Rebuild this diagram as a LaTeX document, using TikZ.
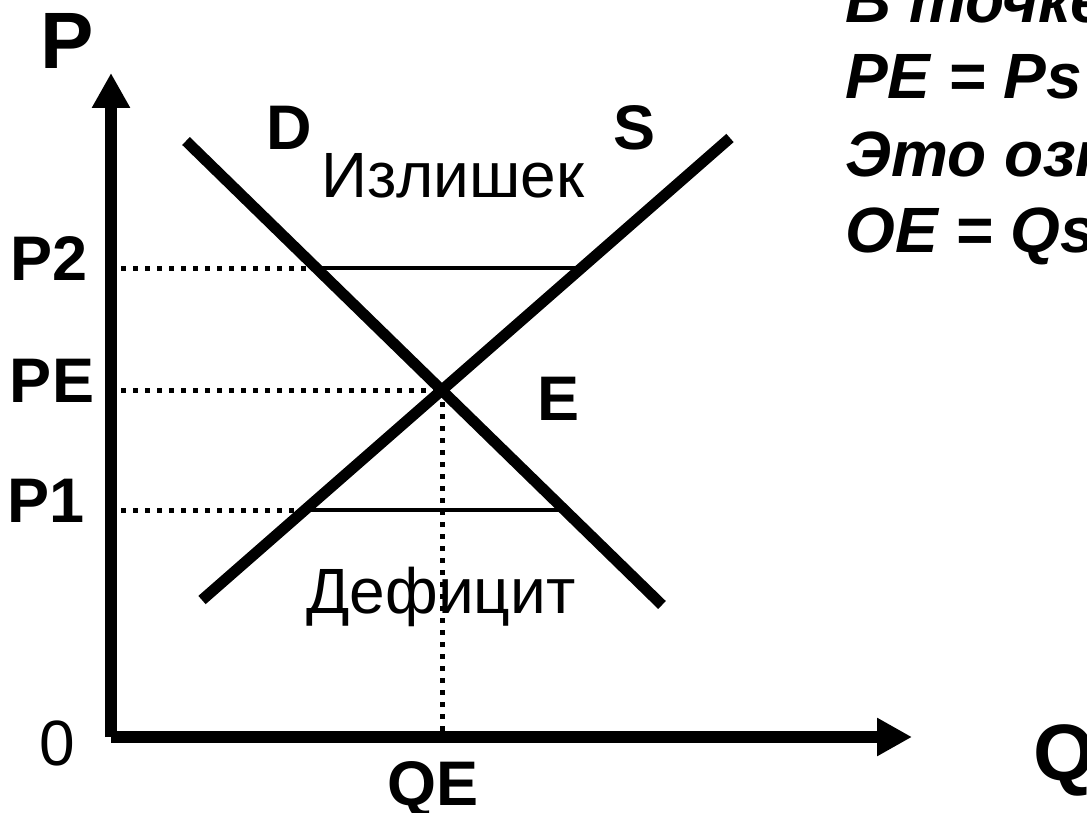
\documentclass[tikz,border=0pt]{standalone}
\usepackage{fontspec}
\setmainfont{Liberation Sans}
\usetikzlibrary{arrows.meta}
\begin{document}
\begin{tikzpicture}[x=1pt,y=-1pt,
  axis/.style={line width=12pt,-{Triangle[length=35pt,width=36pt]}},
  curve/.style={line width=11pt},
  level/.style={line width=4pt},
  guide/.style={line width=5pt,dash pattern=on 5pt off 7pt},
  lab/.style={font=\fontsize{63}{76}\selectfont\bfseries,inner sep=0pt,anchor=base},
  big/.style={font=\fontsize{80}{96}\selectfont\bfseries,inner sep=0pt,anchor=base},
  area/.style={font=\fontsize{64}{76}\selectfont,inner sep=0pt,anchor=base},
  note/.style={font=\fontsize{64}{77}\selectfont\bfseries\itshape,inner sep=0pt,anchor=base west}]
\useasboundingbox (0,0) rectangle (1087,813);
\clip (0,0) rectangle (1087,813);
% key points
\coordinate (O) at (111,737);
\coordinate (Ptip) at (111,73);
\coordinate (Qtip) at (912,737);
\coordinate (D1) at (186,141);
\coordinate (D2) at (662,605);
\coordinate (S1) at (202,600);
\coordinate (S2) at (730,138);
\coordinate (Eq) at (442,390);
\coordinate (EqQ) at (442,737);
\coordinate (P2a) at (121,268);
\coordinate (P2D) at (316,268);
\coordinate (P2S) at (581,268);
\coordinate (PEa) at (121,390);
\coordinate (P1a) at (121,510);
\coordinate (P1S) at (305,510);
\coordinate (P1D) at (565,510);
% axes
\draw[axis] (O) -- (Ptip);
\draw[axis] (O) -- (Qtip);
% guides
\draw[guide] (P2a) -- (P2D);
\draw[guide] (PEa) -- (Eq);
\draw[guide] (P1a) -- (P1S);
\draw[guide] (Eq) -- (EqQ);
% price levels
\draw[level] (P2D) -- (P2S);
\draw[level] (P1S) -- (P1D);
% curves
\draw[curve] (D1) -- (D2);
\draw[curve] (S1) -- (S2);
% labels
\node[big] (lP) at (67,69) {P};
\node[big,anchor=base west] (lQ) at (1033,780) {Q};
\node[lab] (lP2) at (49,280) {P2};
\node[lab] (lPE) at (52,402) {PE};
\node[lab] (lP1) at (46,522) {P1};
\node[area] (l0) at (57,765) {0};
\node[lab] (lQE) at (433,805) {QE};
\node[lab] (lD) at (289,150) {D};
\node[lab] (lS) at (635,150) {S};
\node[lab] (lE) at (559,420) {E};
\node[area] (lsur) at (453,198) {Излишек};
\node[area] (ldef) at (441,613) {Дефицит};
% note
\node[note] (n1) at (845,23) {В точке};
\node[note] (n2) at (845,99) {PE = Ps};
\node[note] (n3) at (845,177) {Это озн};
\node[note] (n4) at (845,253) {OE = Qs};
\end{tikzpicture}
\end{document}
